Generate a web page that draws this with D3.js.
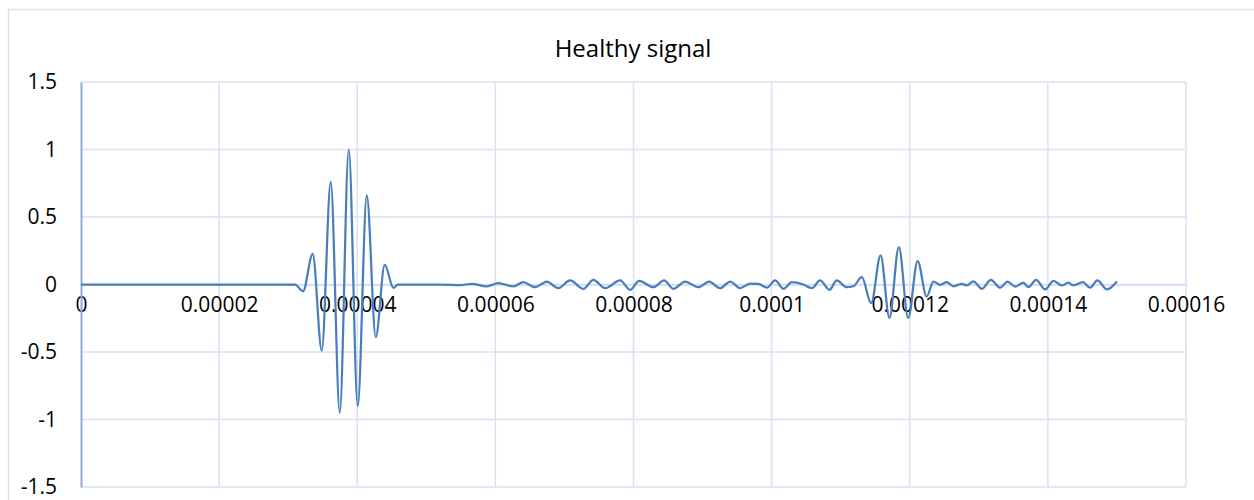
<!DOCTYPE html>
<html>
<head>
<meta charset="utf-8">
<script src="https://cdn.jsdelivr.net/npm/d3@7/dist/d3.min.js"></script>
<style>
  body { margin: 0; background: #fff; }
  text { font-family: "Open Sans", "Liberation Sans", sans-serif; fill: #000; }
</style>
</head>
<body>
<div id="chart"></div>
<script>
// Healthy signal

// time in microseconds (peaks, troughs, flat points)
var timeUs = [0, 30.99, 32.15, 33.55, 34.86, 36.16, 37.47, 38.77, 40.07, 41.38, 42.68, 43.98, 45.23, 45.91,
    51.99, 54.89, 56.58, 58.75, 60.43, 62.61, 64.05, 65.75, 67.44, 69.12, 70.82, 72.74, 74.19, 75.89,
    78.06, 79.51, 80.81, 82.88, 84.43, 85.78, 87.47, 89.40, 90.95, 92.54, 94.00, 95.44, 96.89, 98.09,
    99.31, 100.51, 101.71, 102.93, 104.60, 105.82, 107.02, 108.37, 109.44, 110.83, 111.84, 113.06,
    114.41, 115.78, 117.06, 118.42, 119.77, 121.14, 122.45, 123.43, 124.40, 125.37, 126.33, 127.54,
    128.27, 129.22, 130.44, 131.74, 133.09, 134.15, 135.27, 136.46, 137.19, 138.30, 139.61, 140.81,
    142.03, 142.98, 143.70, 145.06, 146.12, 147.17, 148.55, 150.00];

var amplitude = [0, 0, -0.05, 0.227, -0.49, 0.76, -0.95, 1.0, -0.90, 0.66, -0.39, 0.146, -0.025, 0,
    0, -0.005, 0.005, -0.013, 0.010, -0.013, 0.017, -0.020, 0.022, -0.027, 0.030, -0.032, 0.035, -0.027,
    0.030, -0.039, 0.027, -0.020, 0.030, -0.032, 0.022, -0.020, 0.022, -0.027, 0.022, -0.027, 0.007, 0.005,
    -0.024, 0.030, -0.032, 0.017, 0.0, -0.027, 0.030, -0.039, 0.030, -0.020, -0.013, 0.054,
    -0.138, 0.215, -0.247, 0.277, -0.247, 0.173, -0.089, 0.022, -0.002, 0.017, -0.013, 0.005,
    -0.007, 0.024, -0.032, 0.035, -0.024, 0.022, -0.015, 0.013, -0.020, 0.035, -0.037, 0.027,
    -0.007, 0.013, -0.007, 0.017, -0.024, 0.030, -0.037, 0.022];

var xTicks = [0, 0.00002, 0.00004, 0.00006, 0.00008, 0.0001, 0.00012, 0.00014, 0.00016];
var xTickLabels = ["0", "0.00002", "0.00004", "0.00006", "0.00008", "0.0001", "0.00012", "0.00014", "0.00016"];
var yTicks = [-1.5, -1, -0.5, 0, 0.5, 1, 1.5];
var yTickLabels = ["-1.5", "-1", "-0.5", "0", "0.5", "1", "1.5"];

var width = 1254, height = 500;
var margin = {top: 82, right: 68, bottom: 13, left: 81};

var svg = d3.select("#chart").append("svg")
    .attr("width", width)
    .attr("height", height);

// chart border (runs off the right and bottom edge)
svg.append("rect")
    .attr("x", 8.5).attr("y", 9.5)
    .attr("width", width).attr("height", height)
    .attr("fill", "none")
    .attr("stroke", "#d9e2f3")
    .attr("stroke-width", 1.5);

var x = d3.scaleLinear().domain([0, 0.00016]).range([margin.left, width - margin.right]);
var y = d3.scaleLinear().domain([-1.5, 1.5]).range([height - margin.bottom, margin.top]);

// gridlines
svg.append("g").selectAll("line.h")
    .data(yTicks)
    .enter().append("line")
    .attr("x1", x(0)).attr("x2", x(0.00016))
    .attr("y1", function(d) { return y(d); })
    .attr("y2", function(d) { return y(d); })
    .attr("stroke", "#d9e2f3")
    .attr("stroke-width", 1.5);

svg.append("g").selectAll("line.v")
    .data(xTicks.slice(1))
    .enter().append("line")
    .attr("x1", function(d) { return x(d); })
    .attr("x2", function(d) { return x(d); })
    .attr("y1", y(1.5)).attr("y2", y(-1.5))
    .attr("stroke", "#d9e2f3")
    .attr("stroke-width", 1.5);

// axes
var xAxis = d3.axisBottom(x)
    .tickValues(xTicks)
    .tickSize(0)
    .tickPadding(13)
    .tickFormat(function(d, i) { return xTickLabels[i]; });

var gx = svg.append("g")
    .attr("transform", "translate(0," + y(0) + ")")
    .call(xAxis);
gx.select(".domain").attr("stroke", "#d0dcf0").attr("stroke-width", 1.5);
gx.selectAll("text").style("font-size", "21px").attr("fill", "#000");

var yAxis = d3.axisLeft(y)
    .tickValues(yTicks)
    .tickSize(0)
    .tickPadding(24)
    .tickFormat(function(d, i) { return yTickLabels[i]; });

var gy = svg.append("g")
    .attr("transform", "translate(" + x(0) + ",0)")
    .call(yAxis);
gy.select(".domain").attr("stroke", "#8faadc").attr("stroke-width", 2);
gy.selectAll("text").style("font-size", "21px").attr("fill", "#000");

// signal
var points = timeUs.map(function(t, i) { return [t * 1e-6, amplitude[i]]; });

var line = d3.line()
    .x(function(d) { return x(d[0]); })
    .y(function(d) { return y(d[1]); })
    .curve(d3.curveMonotoneX);

svg.append("path")
    .datum(points)
    .attr("d", line)
    .attr("fill", "none")
    .attr("stroke", "#4a7ebb")
    .attr("stroke-width", 2.25)
    .attr("stroke-linejoin", "round");

// title
svg.append("text")
    .attr("x", 633)
    .attr("y", 57)
    .attr("text-anchor", "middle")
    .style("font-size", "24px")
    .text("Healthy signal");
</script>
</body>
</html>
